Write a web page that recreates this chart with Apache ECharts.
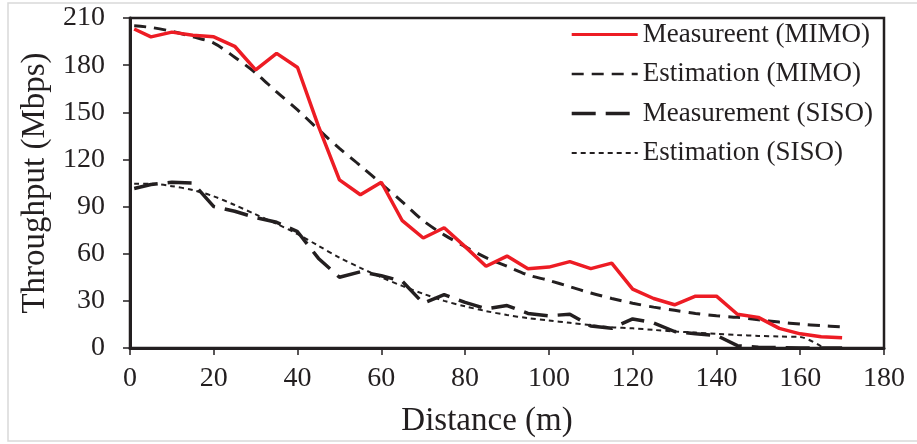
<!DOCTYPE html>
<html><head><meta charset="utf-8">
<script src="https://cdn.jsdelivr.net/npm/echarts@6/dist/echarts.min.js"></script>
<style>html,body{margin:0;padding:0;background:#fff}#c{width:917px;height:444px}</style>
</head><body><div id="c"></div>
<script>
const distance = [1,5,10,15,20,25,30,35,40,45,50,55,60,65,70,75,80,85,90,95,100,105,110,115,120,125,130,135,140,145,150,155,160,165,170];
const measMIMO = [203,198,201,199,198,192,177,187.5,178.5,141,107,97.5,105.5,81,70,76.5,64.5,52,58.5,50.5,51.5,55,50.5,54,37.5,31.5,27.5,33,33,21.5,19.5,12.5,9,7.2,6.6];
const estMIMO = [205,204,201.5,198,194,185,175,163,151.5,139,127,116,104.5,93,81,72,64.5,57.5,52,46.5,43,39,35,31.5,28.5,26,24,22,20.5,19.5,18,16.5,15.2,14.2,13.4];
const measSISO = [101.5,104,105.5,105,90,87,83,80,74,57,45,48.5,46,42.5,28.5,34,29,25,27,22,20.5,21.5,14,12.5,18.5,16,10.5,9,8,1.5,0.5,0.2,0,0,0];
const estSISO = [104.5,104.5,103,100.5,96.5,91,85,79,72.5,65,57.5,51,45,39.5,34.5,30,26.5,23.5,21,19,17.5,16,14.5,13.2,12.5,11.5,10.5,9.8,9,8.3,7.7,7.3,7,1,null];
const seriesNames = ['Measureent (MIMO)','Estimation (MIMO)','Measurement (SISO)','Estimation (SISO)'];
const xTicks = {min:0,max:180,interval:20};
const yTicks = {min:0,max:210,interval:30};

const pair = v => distance.map((d,i)=>[d,v[i]]);
const ink = '#231f20';
const font = 'Liberation Serif';
const legendWidths = [3.2,2.6,3.4,1.8];
const chart = echarts.init(document.getElementById('c'));
chart.setOption({
  animation:false,
  backgroundColor:'#fff',
  graphic:[{type:'rect',shape:{x:8,y:3,width:915,height:438},style:{fill:'none',stroke:'#d9d9d9',lineWidth:1.5},silent:true}],
  grid:{left:130,right:33,top:18,bottom:96,show:true,borderColor:ink,borderWidth:2.5,backgroundColor:'transparent'},
  legend:{
    left:565,top:16,orient:'vertical',itemWidth:66,itemHeight:14,itemGap:12.5,
    data:seriesNames.map((n,i)=>({name:n,lineStyle:{width:legendWidths[i]}})),
    itemStyle:{opacity:0},
    textStyle:{fontFamily:font,fontSize:27,color:ink,lineHeight:27}
  },
  xAxis:{type:'value',min:xTicks.min,max:xTicks.max,interval:xTicks.interval,
    name:'Distance (m)',nameLocation:'middle',nameGap:57,
    nameTextStyle:{fontFamily:font,fontSize:33,color:ink,verticalAlign:'top',padding:[0,40,0,0]},
    axisLine:{show:true,lineStyle:{color:ink,width:3}},
    axisTick:{show:true,inside:false,length:7,lineStyle:{color:ink,width:1.5}},
    axisLabel:{fontFamily:font,fontSize:28,color:ink,margin:17},
    splitLine:{show:false}},
  yAxis:{type:'value',min:yTicks.min,max:yTicks.max,interval:yTicks.interval,
    name:'Throughput (Mbps)',nameLocation:'middle',nameGap:74,
    nameTextStyle:{fontFamily:font,fontSize:33,color:ink},
    axisLine:{show:true,lineStyle:{color:ink,width:3}},
    axisTick:{show:true,inside:false,length:7,lineStyle:{color:ink,width:1.5}},
    axisLabel:{fontFamily:font,fontSize:28,color:ink,margin:25},
    splitLine:{show:false}},
  series:[
    {name:seriesNames[0],type:'line',data:pair(measMIMO),symbol:'none',z:5,
     lineStyle:{color:'#ed1c24',width:3.5},itemStyle:{color:'#ed1c24'}},
    {name:seriesNames[1],type:'line',data:pair(estMIMO),symbol:'none',smooth:0.3,
     lineStyle:{color:ink,width:3,type:[12,8]},itemStyle:{color:ink}},
    {name:seriesNames[2],type:'line',data:pair(measSISO),symbol:'none',
     lineStyle:{color:ink,width:3.5,type:[24,10]},itemStyle:{color:ink}},
    {name:seriesNames[3],type:'line',data:pair(estSISO),symbol:'none',smooth:0.3,connectNulls:false,
     lineStyle:{color:ink,width:2,type:[5,4]},itemStyle:{color:ink}}
  ]
});
</script></body></html>
